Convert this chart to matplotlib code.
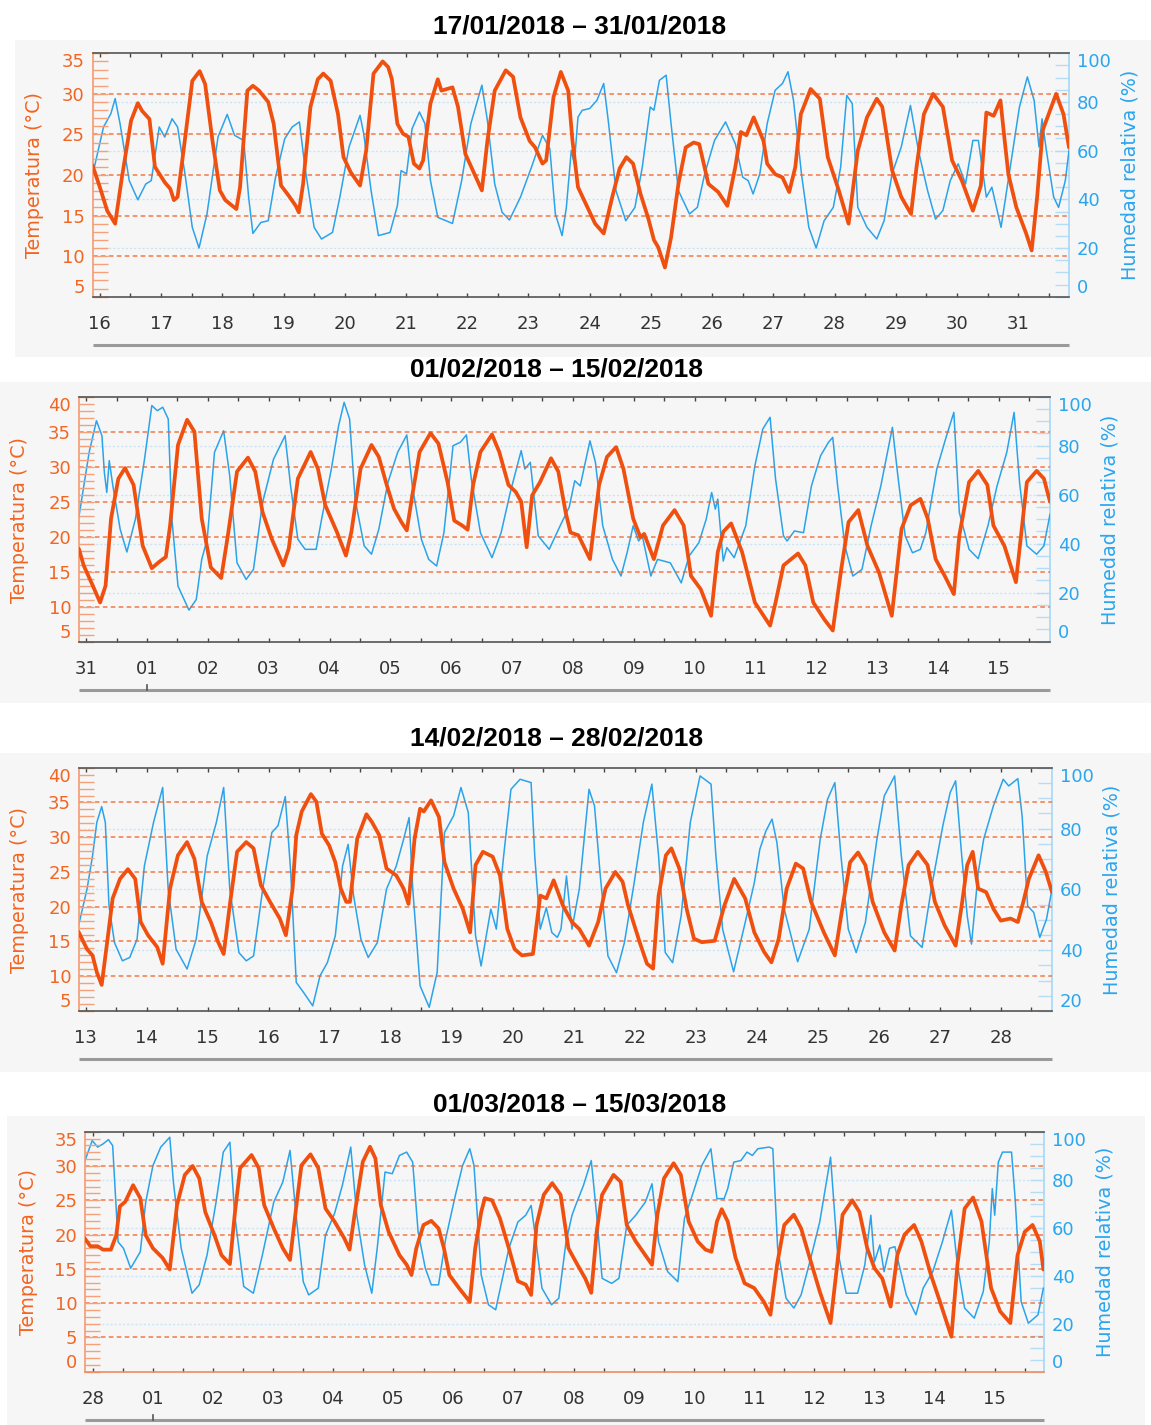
import matplotlib
matplotlib.use("Agg")
import matplotlib.pyplot as plt
import matplotlib.transforms as mtransforms
from matplotlib.patches import Rectangle
from matplotlib.lines import Line2D
from matplotlib.ticker import MultipleLocator, FixedLocator

# ---------------------------------------------------------------- data
titles = ["17/01/2018 \u2013 31/01/2018", "01/02/2018 \u2013 15/02/2018",
          "14/02/2018 \u2013 28/02/2018", "01/03/2018 \u2013 15/03/2018"]

p1_day_labels = ["16", "17", "18", "19", "20", "21", "22", "23", "24", "25", "26", "27", "28", "29", "30", "31"]
p2_day_labels = ["31", "01", "02", "03", "04", "05", "06", "07", "08", "09", "10", "11", "12", "13", "14", "15"]
p3_day_labels = ["13", "14", "15", "16", "17", "18", "19", "20", "21", "22", "23", "24", "25", "26", "27", "28"]
p4_day_labels = ["28", "01", "02", "03", "04", "05", "06", "07", "08", "09", "10", "11", "12", "13", "14", "15"]

# (day, temperature degC)
p1_temp = [(15.88,21.2),(16.0,18.5),(16.12,15.6),(16.25,14.0),(16.36,19.7),(16.51,26.7),(16.62,28.85),(16.69,27.9),(16.81,26.9),(16.9,21.0),(17.06,19.1),(17.15,18.3),(17.21,16.9),(17.27,17.3),(17.36,22.6),(17.51,31.6),(17.63,32.8),(17.72,31.2),(17.84,24.2),(17.96,18.1),(18.05,16.9),(18.23,15.8),(18.29,18.5),(18.41,30.4),(18.5,31.0),(18.6,30.4),(18.75,29.0),(18.84,26.3),(18.96,18.7),(19.08,17.5),(19.2,16.2),(19.25,15.4),(19.32,18.9),(19.44,28.4),(19.56,31.8),(19.65,32.5),(19.77,31.6),(19.89,27.5),(19.98,22.2),(20.1,20.3),(20.25,18.7),(20.35,23.0),(20.47,32.5),(20.62,34.0),(20.71,33.3),(20.77,31.8),(20.86,26.3),(20.95,25.1),(21.04,24.7),(21.13,21.4),(21.22,20.8),(21.28,21.8),(21.4,28.8),(21.52,31.8),(21.58,30.4),(21.67,30.6),(21.76,30.8),(21.85,28.4),(21.97,22.6),(22.12,20.1),(22.24,18.1),(22.33,24.2),(22.45,30.4),(22.63,32.9),(22.75,32.1),(22.87,27.1),(23.02,24.2),(23.11,23.4),(23.23,21.4),(23.29,21.8),(23.41,29.6),(23.53,32.7),(23.65,30.4),(23.72,24.2),(23.81,18.5),(23.94,16.4),(24.09,14.0),(24.23,12.8),(24.37,17.3),(24.49,20.8),(24.6,22.2),(24.71,21.4),(24.83,17.7),(24.96,14.6),(25.05,12.0),(25.12,11.1),(25.23,8.6),(25.33,12.3),(25.45,18.9),(25.57,23.4),(25.7,24.0),(25.79,23.8),(25.94,18.9),(26.1,17.9),(26.25,16.2),(26.38,21.0),(26.47,25.3),(26.56,24.9),(26.68,27.1),(26.84,24.2),(26.9,21.4),(27.03,20.1),(27.15,19.7),(27.26,17.9),(27.36,21.0),(27.45,27.5),(27.61,30.6),(27.76,29.4),(27.89,22.2),(28.07,18.1),(28.23,14.0),(28.38,23.0),(28.53,27.1),(28.69,29.4),(28.78,28.4),(28.94,20.6),(29.09,17.3),(29.25,15.2),(29.34,21.0),(29.46,27.5),(29.61,30.0),(29.77,28.4),(29.92,21.8),(30.08,19.3),(30.26,15.6),(30.39,18.7),(30.48,27.7),(30.6,27.3),(30.71,29.2),(30.78,24.2),(30.84,20.1),(30.97,16.0),(31.13,12.8),(31.22,10.7),(31.31,17.3),(31.4,25.5),(31.62,30.0),(31.74,27.5),(31.83,23.4)]

# (day, relative humidity %)
p1_hum = [(15.91,53.2),(16.06,69.7),(16.18,75.2),(16.25,81.4),(16.33,71.1),(16.48,47.7),(16.62,39.8),(16.75,46.3),(16.84,47.7),(16.97,69.7),(17.06,65.6),(17.18,73.1),(17.27,69.7),(17.39,50.5),(17.51,28.5),(17.62,20.0),(17.75,34.0),(17.93,65.6),(18.08,74.9),(18.2,66.3),(18.35,64.2),(18.43,40.9),(18.5,26.0),(18.63,30.5),(18.75,31.2),(18.87,49.1),(19.02,64.9),(19.14,69.7),(19.26,71.8),(19.35,53.2),(19.5,28.5),(19.62,23.7),(19.8,26.4),(19.92,40.9),(20.07,61.5),(20.25,74.5),(20.31,67.0),(20.43,43.6),(20.55,25.1),(20.74,26.4),(20.86,37.4),(20.92,51.8),(21.01,50.5),(21.1,69.0),(21.22,75.9),(21.31,71.1),(21.4,47.7),(21.52,32.6),(21.76,30.1),(21.91,47.7),(22.06,71.1),(22.24,86.9),(22.33,72.4),(22.45,46.3),(22.57,34.7),(22.69,31.5),(22.87,40.9),(23.05,53.2),(23.23,66.3),(23.35,60.8),(23.44,34.0),(23.55,25.1),(23.62,36.7),(23.7,60.1),(23.75,54.6),(23.81,73.8),(23.88,76.6),(24.0,77.3),(24.12,80.7),(24.23,87.6),(24.31,71.1),(24.43,43.6),(24.59,31.2),(24.74,36.7),(24.86,53.2),(24.99,77.9),(25.05,76.6),(25.14,88.9),(25.25,91.0),(25.33,71.1),(25.45,43.6),(25.63,34.0),(25.76,36.7),(25.88,50.5),(26.04,64.2),(26.22,71.8),(26.38,62.8),(26.5,49.1),(26.59,47.7),(26.67,42.2),(26.78,50.5),(26.9,71.1),(27.03,84.8),(27.15,87.6),(27.24,92.4),(27.33,80.7),(27.46,50.5),(27.58,28.5),(27.7,20.0),(27.83,31.2),(27.98,36.7),(28.1,53.2),(28.2,82.7),(28.29,79.3),(28.38,36.7),(28.53,28.5),(28.69,23.7),(28.81,31.2),(28.94,50.5),(29.09,61.5),(29.24,78.6),(29.37,60.1),(29.52,43.6),(29.65,31.9),(29.77,35.4),(29.89,47.7),(30.02,54.6),(30.14,46.3),(30.26,64.2),(30.35,64.2),(30.48,40.9),(30.57,45.0),(30.72,28.5),(30.87,53.2),(31.02,77.9),(31.15,90.3),(31.26,80.7),(31.34,61.5),(31.39,73.1),(31.46,60.1),(31.58,40.9),(31.66,36.7),(31.77,47.7),(31.83,60.1)]

p2_temp = [(-0.12,18.3),(-0.04,15.9),(0.11,13.0),(0.23,10.6),(0.32,13.0),(0.41,22.6),(0.53,28.3),(0.64,29.8),(0.78,27.4),(0.93,18.7),(1.08,15.5),(1.2,16.4),(1.31,17.1),(1.38,21.6),(1.51,33.1),(1.66,36.7),(1.78,35.0),(1.9,22.6),(2.05,15.6),(2.22,14.1),(2.33,20.2),(2.48,29.3),(2.66,31.3),(2.78,29.3),(2.9,23.5),(3.05,19.7),(3.24,15.9),(3.33,18.3),(3.48,28.3),(3.69,32.1),(3.81,29.7),(3.93,24.5),(4.12,20.7),(4.27,17.3),(4.36,20.7),(4.51,29.7),(4.69,33.1),(4.81,31.4),(4.94,27.4),(5.06,24.0),(5.18,22.1),(5.27,20.9),(5.36,25.9),(5.48,32.1),(5.66,34.8),(5.79,33.3),(5.94,27.8),(6.05,22.3),(6.18,21.6),(6.27,21.0),(6.36,27.4),(6.48,32.1),(6.67,34.6),(6.79,32.1),(6.94,27.4),(7.06,26.4),(7.15,25.0),(7.24,18.5),(7.33,25.9),(7.46,27.8),(7.64,31.2),(7.76,29.3),(7.88,23.5),(7.96,20.6),(8.09,20.2),(8.28,16.8),(8.43,27.4),(8.56,31.4),(8.71,32.8),(8.83,29.7),(8.99,22.6),(9.11,19.9),(9.17,20.4),(9.33,16.8),(9.48,21.6),(9.67,23.8),(9.82,21.6),(9.94,14.4),(10.1,12.5),(10.27,8.7),(10.38,17.8),(10.47,20.7),(10.6,21.9),(10.78,17.8),(10.99,10.6),(11.24,7.3),(11.33,10.6),(11.46,15.9),(11.7,17.6),(11.82,15.9),(11.95,10.6),(12.13,8.2),(12.27,6.6),(12.41,15.4),(12.53,22.1),(12.69,23.8),(12.84,18.7),(13.03,14.9),(13.24,8.7),(13.4,21.1),(13.55,24.5),(13.71,25.4),(13.83,22.6),(13.96,16.8),(14.11,14.4),(14.26,11.8),(14.35,20.2),(14.51,27.8),(14.66,29.4),(14.81,27.4),(14.91,21.6),(15.09,18.7),(15.28,13.5),(15.46,27.8),(15.62,29.4),(15.74,28.3),(15.84,25.0)]

p2_hum = [(-0.12,50.7),(0.05,77.3),(0.17,90.2),(0.26,84.1),(0.3,69.1),(0.34,60.9),(0.38,73.9),(0.44,63.6),(0.56,45.9),(0.67,36.6),(0.81,50.0),(0.96,74.5),(1.08,96.4),(1.17,94.3),(1.26,95.7),(1.35,90.9),(1.41,50.0),(1.51,22.7),(1.69,12.9),(1.81,17.2),(1.9,33.6),(1.99,41.8),(2.11,77.3),(2.26,86.1),(2.36,67.7),(2.48,32.2),(2.63,25.4),(2.75,29.5),(2.9,56.8),(3.08,74.5),(3.27,84.1),(3.36,63.6),(3.48,41.8),(3.6,37.7),(3.78,37.7),(3.87,50.0),(4.03,70.5),(4.15,88.2),(4.24,97.7),(4.33,90.9),(4.42,58.2),(4.57,39.1),(4.69,35.7),(4.81,45.9),(4.96,65.0),(5.12,77.3),(5.27,84.4),(5.36,63.6),(5.51,41.8),(5.63,33.6),(5.76,30.9),(5.88,44.5),(6.03,80.0),(6.15,81.4),(6.25,84.4),(6.33,66.4),(6.48,44.5),(6.67,34.3),(6.82,44.5),(6.97,60.9),(7.15,78.0),(7.21,70.5),(7.3,73.2),(7.43,43.2),(7.61,37.7),(7.79,47.3),(7.94,55.0),(8.03,65.7),(8.12,63.6),(8.28,82.0),(8.37,73.2),(8.49,47.3),(8.65,33.6),(8.79,26.8),(8.89,36.3),(8.99,47.3),(9.08,41.1),(9.14,43.2),(9.28,26.8),(9.39,33.6),(9.6,32.2),(9.78,24.0),(9.91,35.0),(10.07,40.4),(10.19,50.0),(10.28,60.9),(10.34,54.1),(10.38,58.2),(10.47,32.9),(10.53,38.4),(10.65,34.3),(10.84,47.3),(10.99,71.8),(11.12,86.8),(11.24,91.6),(11.33,66.4),(11.46,43.2),(11.52,41.1),(11.64,45.2),(11.79,44.5),(11.92,63.6),(12.07,75.9),(12.2,81.4),(12.27,83.4),(12.35,63.6),(12.47,39.1),(12.6,26.8),(12.75,29.5),(12.9,47.3),(13.06,63.6),(13.25,87.5),(13.34,67.7),(13.46,43.2),(13.58,36.3),(13.71,37.7),(13.8,44.5),(13.98,70.5),(14.14,84.1),(14.26,93.6),(14.35,52.7),(14.51,37.7),(14.66,33.9),(14.82,47.3),(14.97,63.6),(15.13,77.3),(15.25,93.6),(15.34,65.0),(15.46,39.1),(15.62,35.7),(15.74,39.1),(15.84,52.0)]

p3_temp = [(12.88,16.4),(13.02,13.9),(13.11,13.0),(13.18,10.6),(13.26,8.75),(13.35,14.9),(13.44,21.2),(13.56,24.0),(13.69,25.4),(13.81,24.0),(13.9,17.8),(14.02,15.9),(14.17,14.2),(14.26,11.8),(14.38,22.6),(14.51,27.4),(14.66,29.3),(14.78,26.9),(14.9,20.7),(15.05,17.8),(15.17,14.9),(15.26,13.2),(15.36,20.2),(15.48,27.9),(15.63,29.3),(15.75,28.4),(15.87,23.1),(16.02,20.7),(16.18,18.3),(16.28,15.9),(16.39,22.6),(16.45,30.3),(16.54,33.7),(16.69,36.2),(16.78,35.1),(16.87,30.5),(16.99,28.8),(17.09,26.4),(17.18,22.6),(17.27,20.7),(17.33,20.7),(17.45,29.8),(17.6,33.3),(17.69,32.2),(17.81,30.3),(17.93,25.5),(18.09,24.5),(18.21,22.6),(18.29,20.4),(18.39,29.8),(18.48,34.1),(18.54,33.7),(18.66,35.3),(18.79,32.9),(18.88,26.4),(19.03,22.6),(19.18,19.7),(19.3,16.3),(19.39,26.0),(19.51,27.9),(19.67,27.2),(19.79,24.5),(19.91,16.8),(20.03,13.9),(20.15,13.0),(20.33,13.2),(20.45,21.6),(20.55,21.2),(20.67,23.8),(20.82,20.2),(20.97,17.8),(21.09,16.8),(21.25,14.4),(21.4,17.8),(21.52,22.6),(21.68,25.0),(21.8,23.6),(21.89,20.2),(22.08,14.9),(22.2,11.8),(22.3,11.1),(22.39,21.6),(22.51,27.4),(22.6,28.4),(22.73,25.5),(22.85,19.7),(22.97,15.4),(23.1,14.9),(23.31,15.1),(23.47,20.2),(23.63,24.0),(23.81,21.2),(23.96,16.3),(24.12,13.5),(24.24,12.0),(24.36,15.4),(24.49,22.6),(24.64,26.2),(24.76,25.5),(24.89,20.7),(25.1,16.3),(25.28,13.0),(25.41,20.2),(25.53,26.4),(25.66,27.8),(25.78,26.0),(25.9,20.7),(26.09,16.3),(26.26,13.7),(26.37,20.2),(26.49,26.0),(26.64,27.9),(26.8,26.0),(26.92,20.7),(27.08,17.3),(27.26,14.4),(27.36,20.2),(27.45,26.0),(27.54,27.9),(27.63,22.6),(27.76,22.1),(27.88,19.7),(28.0,18.0),(28.16,18.3),(28.28,17.8),(28.37,20.7),(28.46,24.0),(28.62,27.4),(28.74,25.0),(28.84,22.1)]

p3_hum = [(12.88,48.0),(13.02,60.1),(13.11,71.0),(13.18,82.0),(13.26,87.2),(13.32,82.0),(13.38,54.6),(13.47,42.5),(13.6,36.5),(13.72,37.6),(13.84,43.6),(13.96,67.7),(14.11,82.0),(14.26,93.5),(14.35,60.1),(14.48,40.3),(14.66,33.8),(14.81,43.6),(14.99,71.0),(15.14,82.0),(15.26,93.5),(15.36,60.1),(15.51,39.2),(15.63,36.5),(15.75,38.1),(15.9,60.1),(16.05,78.7),(16.15,80.9),(16.27,90.5),(16.36,65.5),(16.45,29.4),(16.57,26.1),(16.72,21.7),(16.84,31.6),(16.96,35.9),(17.09,44.7),(17.21,67.7),(17.3,74.8),(17.39,57.9),(17.51,43.6),(17.63,37.6),(17.78,42.5),(17.93,60.1),(18.09,67.7),(18.21,76.5),(18.3,83.6),(18.36,60.1),(18.48,28.3),(18.63,21.2),(18.76,32.7),(18.88,78.7),(19.03,84.2),(19.15,93.5),(19.27,85.3),(19.39,44.7),(19.48,34.8),(19.64,53.5),(19.73,46.9),(19.85,71.0),(19.97,92.9),(20.12,96.2),(20.3,95.1),(20.36,71.0),(20.45,46.9),(20.55,54.0),(20.64,45.8),(20.73,44.2),(20.79,46.9),(20.88,64.4),(20.97,46.9),(21.09,60.1),(21.25,92.9),(21.34,87.4),(21.43,65.5),(21.56,38.1),(21.7,32.6),(21.83,42.5),(21.99,62.2),(22.14,82.0),(22.28,94.6),(22.39,71.0),(22.5,39.2),(22.62,35.9),(22.76,51.3),(22.91,82.0),(23.07,97.3),(23.25,94.6),(23.33,71.0),(23.44,46.9),(23.62,32.9),(23.81,49.1),(23.96,62.2),(24.05,73.2),(24.15,79.2),(24.25,83.1),(24.33,75.4),(24.45,53.5),(24.67,36.2),(24.86,46.9),(25.04,76.5),(25.16,89.6),(25.28,95.1),(25.38,71.0),(25.5,46.9),(25.63,39.2),(25.78,49.1),(25.97,76.5),(26.09,90.7),(26.26,97.3),(26.37,71.0),(26.52,44.7),(26.71,40.9),(26.86,60.1),(27.05,80.9),(27.17,91.8),(27.26,95.7),(27.36,71.0),(27.45,51.3),(27.52,42.0),(27.63,65.5),(27.72,76.5),(27.88,87.5),(28.04,96.2),(28.13,94.0),(28.28,96.4),(28.35,84.2),(28.44,54.6),(28.54,52.4),(28.64,44.2),(28.75,50.2),(28.84,60.1)]

p4_temp = [(-0.14,19.5),(-0.04,18.3),(0.08,18.3),(0.17,17.8),(0.3,17.8),(0.39,19.9),(0.45,24.1),(0.54,24.8),(0.67,27.2),(0.79,25.3),(0.88,19.9),(1.0,18.0),(1.16,16.6),(1.28,14.9),(1.4,24.3),(1.53,28.7),(1.66,30.0),(1.77,28.2),(1.87,23.3),(2.02,20.0),(2.14,17.0),(2.28,15.7),(2.36,22.9),(2.45,29.7),(2.64,31.6),(2.76,29.7),(2.85,24.3),(3.01,20.9),(3.16,18.0),(3.28,16.3),(3.38,23.8),(3.47,30.1),(3.62,31.7),(3.75,29.7),(3.87,23.8),(4.02,21.9),(4.18,19.5),(4.27,17.8),(4.36,23.3),(4.49,30.6),(4.61,32.8),(4.7,31.1),(4.79,24.3),(4.92,20.4),(5.1,17.0),(5.22,15.6),(5.3,14.1),(5.38,18.0),(5.5,21.4),(5.63,22.0),(5.75,20.9),(5.84,18.0),(5.93,14.1),(6.09,12.2),(6.27,10.2),(6.36,18.0),(6.46,23.3),(6.52,25.3),(6.64,25.0),(6.77,22.4),(6.92,18.0),(7.07,13.2),(7.2,12.7),(7.29,11.2),(7.38,21.4),(7.5,25.8),(7.64,27.5),(7.78,25.8),(7.91,18.0),(8.06,15.6),(8.19,13.6),(8.29,11.5),(8.38,20.4),(8.47,25.8),(8.66,28.7),(8.78,27.7),(8.88,21.4),(9.03,19.0),(9.19,17.0),(9.3,15.6),(9.39,22.9),(9.5,28.2),(9.66,30.4),(9.78,28.7),(9.91,21.9),(10.06,19.0),(10.19,17.8),(10.29,17.5),(10.38,21.9),(10.46,23.7),(10.56,21.9),(10.69,16.6),(10.84,12.9),(11.0,12.2),(11.16,10.2),(11.27,8.3),(11.38,15.6),(11.5,21.4),(11.66,22.9),(11.78,20.9),(11.91,17.0),(12.09,11.7),(12.27,7.1),(12.38,15.6),(12.47,22.9),(12.63,25.0),(12.75,23.3),(12.88,18.0),(13.0,15.1),(13.13,13.6),(13.27,9.5),(13.38,17.0),(13.5,20.0),(13.66,21.4),(13.78,19.0),(13.94,14.1),(14.09,10.2),(14.28,5.1),(14.38,15.6),(14.5,23.8),(14.64,25.4),(14.78,21.9),(14.94,12.2),(15.09,8.8),(15.26,7.1),(15.38,17.0),(15.5,20.4),(15.63,21.4),(15.75,19.0),(15.81,14.9)]

p4_hum = [(-0.14,87.3),(-0.01,96.3),(0.08,93.6),(0.17,94.9),(0.26,96.7),(0.33,94.2),(0.42,54.1),(0.51,51.4),(0.63,43.1),(0.79,50.0),(0.88,70.7),(1.0,85.9),(1.13,93.6),(1.28,97.7),(1.34,79.0),(1.47,51.4),(1.65,32.7),(1.77,36.2),(1.9,48.6),(2.05,70.7),(2.17,91.5),(2.28,95.6),(2.36,65.2),(2.51,35.5),(2.67,32.7),(2.82,48.6),(3.01,70.7),(3.16,79.0),(3.28,92.2),(3.38,65.2),(3.5,37.5),(3.59,32.0),(3.75,34.8),(3.87,56.9),(4.02,65.9),(4.15,77.6),(4.29,93.6),(4.39,65.2),(4.52,44.5),(4.64,32.7),(4.73,51.4),(4.86,83.2),(4.98,82.5),(5.1,90.1),(5.22,91.5),(5.32,87.3),(5.41,58.3),(5.53,43.1),(5.63,36.2),(5.75,36.2),(5.87,55.5),(6.03,73.5),(6.15,85.9),(6.27,92.9),(6.34,85.9),(6.46,40.3),(6.58,27.9),(6.7,25.8),(6.8,37.5),(6.92,51.4),(7.07,62.4),(7.2,65.2),(7.29,69.3),(7.35,58.3),(7.47,34.8),(7.63,27.9),(7.75,30.6),(7.87,54.1),(7.97,65.2),(8.03,69.3),(8.16,77.6),(8.29,88.0),(8.38,65.2),(8.47,38.9),(8.63,36.8),(8.75,38.9),(8.88,61.0),(9.03,65.2),(9.19,70.7),(9.3,78.3),(9.41,54.1),(9.56,41.7),(9.73,37.5),(9.84,63.8),(9.97,73.5),(10.13,86.0),(10.28,92.9),(10.38,72.1),(10.5,72.1),(10.56,76.3),(10.66,87.3),(10.78,88.0),(10.88,91.5),(10.97,90.1),(11.06,92.9),(11.25,93.6),(11.31,92.9),(11.39,51.4),(11.53,30.6),(11.66,26.5),(11.78,32.0),(11.94,47.2),(12.09,62.4),(12.27,89.4),(12.38,51.4),(12.53,32.7),(12.72,32.7),(12.84,44.5),(12.94,65.2),(13.0,45.8),(13.09,52.8),(13.16,41.7),(13.25,51.4),(13.34,52.1),(13.41,44.5),(13.53,32.0),(13.69,23.7),(13.81,34.8),(13.97,41.7),(14.13,54.1),(14.28,67.3),(14.38,44.5),(14.5,26.5),(14.66,22.3),(14.81,33.4),(14.91,54.1),(14.96,76.3),(15.0,65.2),(15.06,87.3),(15.13,91.5),(15.28,91.5),(15.34,72.1),(15.44,29.2),(15.56,20.2),(15.72,23.7),(15.81,34.8)]

# ---------------------------------------------------------------- style
W, H = 1151, 1425
TEMP_C = "#f0500f"
HUM_C = "#2ba3ea"
TEMP_TXT = "#f26522"
HUM_TXT = "#2aa6ee"
BG = "#f6f6f6"
plt.rcParams["font.family"] = ["DejaVu Sans"]

fig = plt.figure(figsize=(W / 100, H / 100), dpi=100)


def fx(px):
    return px / W


def fy(py):
    return 1 - py / H


panels = [
    dict(title=titles[0], tpos=(580, 27), bg=(15, 40, 1151, 357), box=(92.5, 53.3, 1069, 296.7),
         first=16, labels=p1_day_labels, xlim=(15.88, 31.83), tlim=(5, 35), hlim=(0, 100),
         temp=p1_temp, hum=p1_hum, tlab=(35, 175), hlab=(1130, 175), nav=345, navtick=None,
         bottom_c="#555555"),
    dict(title=titles[1], tpos=(557, 370), bg=(0, 382, 1151, 703), box=(78.8, 396.7, 1050, 641.7),
         first=0, labels=p2_day_labels, xlim=(-0.12, 15.84), tlim=(5, 40), hlim=(0, 100),
         temp=p2_temp, hum=p2_hum, tlab=(20, 520), hlab=(1110, 520), nav=690, navtick=1,
         bottom_c="#555555"),
    dict(title=titles[2], tpos=(557, 739), bg=(0, 753, 1151, 1072), box=(78.8, 767.7, 1052, 1011),
         first=13, labels=p3_day_labels, xlim=(12.885, 28.84), tlim=(5, 40), hlim=(20, 100),
         temp=p3_temp, hum=p3_hum, tlab=(20, 890), hlab=(1112, 890), nav=1059, navtick=None,
         bottom_c="#555555"),
    dict(title=titles[3], tpos=(580, 1105), bg=(7, 1116, 1145, 1425), box=(85, 1131.7, 1044, 1371.7),
         first=0, labels=p4_day_labels, xlim=(-0.13, 15.82), tlim=(0, 35), hlim=(0, 100),
         temp=p4_temp, hum=p4_hum, tlab=(28, 1252), hlab=(1105, 1252), nav=1420, navtick=1,
         bottom_c="#f28b5e"),
]

for p in panels:
    x0, y0, x1, y1 = p["bg"]
    fig.add_artist(Rectangle((fx(x0), fy(y1)), fx(x1) - fx(x0), fy(y0) - fy(y1),
                             transform=fig.transFigure, facecolor=BG, edgecolor="none", zorder=-10))
    fig.text(fx(p["tpos"][0]), fy(p["tpos"][1]), p["title"], ha="center", va="center",
             fontsize=19, fontweight="bold", family=["Liberation Sans", "DejaVu Sans"], color="black")

    l, t, r, b = p["box"]
    ax = fig.add_axes([fx(l), fy(b), fx(r) - fx(l), fy(t) - fy(b)])
    ax2 = ax.twinx()
    ax2.set_zorder(1)
    ax.set_zorder(2)
    ax.patch.set_visible(False)
    ax2.patch.set_visible(False)

    # data
    tt = [d for d, v in p["temp"]]
    tv = [v for d, v in p["temp"]]
    ht = [d for d, v in p["hum"]]
    hv = [v for d, v in p["hum"]]
    ax2.plot(ht, hv, color=HUM_C, lw=1.1, zorder=3, solid_joinstyle="round")
    ax.plot(tt, tv, color=TEMP_C, lw=2.7, zorder=4, solid_joinstyle="round", solid_capstyle="round")

    ax.set_xlim(*p["xlim"])
    ax.set_ylim(*p["tlim"])
    ax2.set_ylim(*p["hlim"])

    # grids
    tlo, thi = p["tlim"]
    for g in range(tlo + 5, thi, 5):
        ax.axhline(g, color="#f2622a", lw=1.1, ls=(0, (3, 2.2)), alpha=0.85, zorder=1)
    hlo, hhi = p["hlim"]
    for g in range(hlo + 20, hhi, 20):
        ax2.axhline(g, color="#c9e4f7", lw=1.0, ls=(0, (1.5, 1.5)), zorder=1)

    # x axis
    days = list(range(p["first"], p["first"] + len(p["labels"])))
    ax.xaxis.set_major_locator(FixedLocator(days))
    ax.set_xticklabels(p["labels"])
    ax.xaxis.set_minor_locator(MultipleLocator(0.5))
    ax.tick_params(axis="x", which="both", direction="in", top=True, bottom=True,
                   length=2.6, width=1, color="#444444", labelsize=13, labelcolor="#333333", pad=13)
    ax2.tick_params(axis="x", which="both", top=False, bottom=False, labeltop=False, labelbottom=False)

    # temperature axis
    ax.set_yticks(list(range(tlo, thi + 1, 5)))
    ax.yaxis.set_minor_locator(MultipleLocator(1))
    ax.tick_params(axis="y", which="both", direction="in", left=True, right=False,
                   length=10.5, width=1, color="#f6a07a", labelsize=13, labelcolor=TEMP_TXT, pad=5.5)
    ticks = ax.yaxis.get_major_ticks()
    ticks[0].label1.set_verticalalignment("bottom")
    ticks[-1].label1.set_verticalalignment("top")

    # humidity axis
    ax2.set_yticks(list(range(hlo, hhi + 1, 20)))
    ax2.yaxis.set_minor_locator(MultipleLocator(5))
    ax2.tick_params(axis="y", which="both", direction="in", right=True, left=False,
                    length=10, width=1, color="#b5dcf6", labelsize=13, labelcolor=HUM_TXT, pad=5.5)
    ticks2 = ax2.yaxis.get_major_ticks()
    ticks2[0].label2.set_verticalalignment("bottom")
    ticks2[-1].label2.set_verticalalignment("top")

    # spines
    for s in ["left", "top", "bottom"]:
        ax2.spines[s].set_visible(False)
    ax.spines["right"].set_visible(False)
    ax.spines["top"].set_color("#555555")
    ax.spines["bottom"].set_color(p["bottom_c"])
    ax.spines["left"].set_color("#f49a72")
    ax2.spines["right"].set_color("#a9d7f5")
    for s in ax.spines.values():
        s.set_linewidth(1.2)
    ax2.spines["right"].set_linewidth(1.2)

    # axis titles
    fig.text(fx(p["tlab"][0]), fy(p["tlab"][1]), "Temperatura (\u00b0C)", rotation=90,
             ha="center", va="center", fontsize=13.8, color=TEMP_TXT)
    fig.text(fx(p["hlab"][0]), fy(p["hlab"][1]), "Humedad relativa (%)", rotation=90,
             ha="center", va="center", fontsize=13.8, color=HUM_TXT)

    # navigator bar below the axis
    fig.add_artist(Line2D([fx(l), fx(r)], [fy(p["nav"]), fy(p["nav"])], transform=fig.transFigure,
                          color="#9a9a9a", lw=2.2, solid_capstyle="butt"))
    if p["navtick"] is not None:
        tr = mtransforms.blended_transform_factory(ax.transData, fig.transFigure)
        fig.add_artist(Line2D([p["navtick"], p["navtick"]], [fy(p["nav"]), fy(p["nav"] - 5)],
                              transform=tr, color="#555555", lw=1.2))

fig.savefig("out.png", dpi=100)
